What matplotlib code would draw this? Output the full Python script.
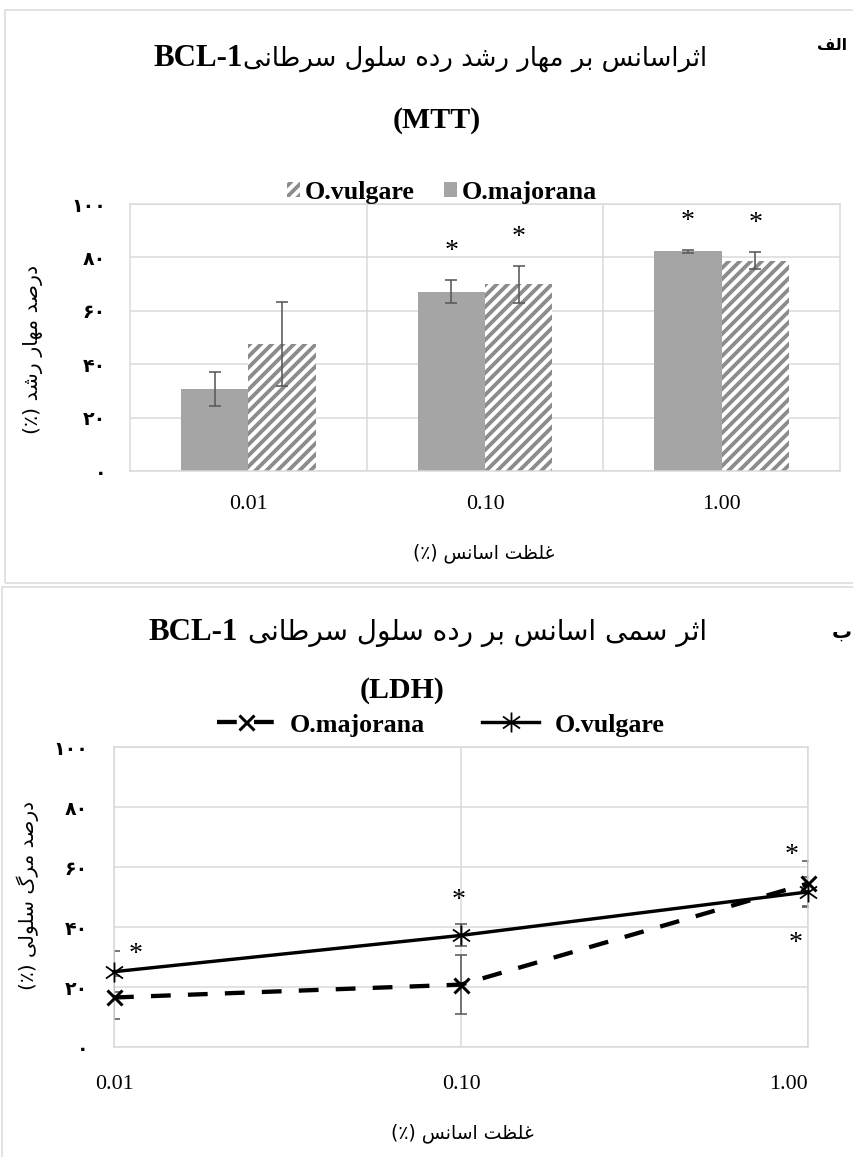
import matplotlib
matplotlib.use('Agg')
import matplotlib.pyplot as plt
import numpy as np
from matplotlib.path import Path
from matplotlib.patches import Rectangle
from matplotlib.ticker import NullLocator

# ---------------- data ----------------
concentrations = [0.01, 0.1, 1.0]
concentration_labels = ['0.01', '0.10', '1.00']

mtt_majorana = [30.6, 67.2, 82.3]
mtt_majorana_err = [6.3, 4.3, 0.5]
mtt_vulgare = [47.6, 69.9, 78.8]
mtt_vulgare_err = [15.6, 6.8, 3.2]
mtt_majorana_sig = [False, True, True]
mtt_vulgare_sig = [False, True, True]

ldh_majorana = [16.5, 20.8, 54.5]
ldh_majorana_err = [7.3, 9.9, 7.5]
ldh_vulgare = [25.1, 37.2, 51.7]
ldh_vulgare_err = [6.9, 3.7, 5.0]
ldh_majorana_sig = [False, False, True]
ldh_vulgare_sig = [True, True, True]

y_ticks = [0, 20, 40, 60, 80, 100]
y_tick_labels = ['\u06F0', '\u06F2\u06F0', '\u06F4\u06F0', '\u06F6\u06F0',
                 '\u06F8\u06F0', '\u06F1\u06F0\u06F0']

series_majorana = 'O.majorana'
series_vulgare = 'O.vulgare'

panel_a_label = 'الف'
panel_a_title_fa = 'اثراسانس بر مهار رشد رده سلول سرطانی'
panel_a_title_en = 'BCL-1'
panel_a_assay = '(MTT)'
panel_a_ylabel = 'درصد مهار رشد (\u066A)'
panel_b_label = 'ب'
panel_b_title_fa = 'اثر سمی اسانس بر رده سلول سرطانی'
panel_b_title_en = 'BCL-1'
panel_b_assay = '(LDH)'
panel_b_ylabel = 'درصد مرگ سلولی (\u066A)'
xlabel_fa = 'غلظت اسانس (\u066A)'

# ---------------- Persian shaping (contextual forms + visual order) ----------------
_FORMS = {
    '\u0627': ('\uFE8D', '\uFE8E'),
    '\u0628': ('\uFE8F', '\uFE90', '\uFE91', '\uFE92'),
    '\u062A': ('\uFE95', '\uFE96', '\uFE97', '\uFE98'),
    '\u062B': ('\uFE99', '\uFE9A', '\uFE9B', '\uFE9C'),
    '\u062F': ('\uFEA9', '\uFEAA'),
    '\u0631': ('\uFEAD', '\uFEAE'),
    '\u0633': ('\uFEB1', '\uFEB2', '\uFEB3', '\uFEB4'),
    '\u0634': ('\uFEB5', '\uFEB6', '\uFEB7', '\uFEB8'),
    '\u0635': ('\uFEB9', '\uFEBA', '\uFEBB', '\uFEBC'),
    '\u0637': ('\uFEC1', '\uFEC2', '\uFEC3', '\uFEC4'),
    '\u0638': ('\uFEC5', '\uFEC6', '\uFEC7', '\uFEC8'),
    '\u063A': ('\uFECD', '\uFECE', '\uFECF', '\uFED0'),
    '\u0641': ('\uFED1', '\uFED2', '\uFED3', '\uFED4'),
    '\u0644': ('\uFEDD', '\uFEDE', '\uFEDF', '\uFEE0'),
    '\u0645': ('\uFEE1', '\uFEE2', '\uFEE3', '\uFEE4'),
    '\u0646': ('\uFEE5', '\uFEE6', '\uFEE7', '\uFEE8'),
    '\u0647': ('\uFEE9', '\uFEEA', '\uFEEB', '\uFEEC'),
    '\u0648': ('\uFEED', '\uFEEE'),
    '\u06CC': ('\uFBFC', '\uFBFD', '\uFBFE', '\uFBFF'),
    '\u06AF': ('\uFB92', '\uFB93', '\uFB94', '\uFB95'),
}


def fa(s):
    s = s.replace('\u064A', '\u06CC').replace('\u0649', '\u06CC')
    out = []
    n = len(s)
    for i, ch in enumerate(s):
        if ch in _FORMS:
            f = _FORMS[ch]
            prev = s[i - 1] if i > 0 else ''
            nxt = s[i + 1] if i < n - 1 else ''
            jp = prev in _FORMS and len(_FORMS[prev]) == 4
            jn = len(f) == 4 and nxt in _FORMS
            if jp and jn:
                c = f[3]
            elif jp:
                c = f[1]
            elif jn:
                c = f[2]
            else:
                c = f[0]
            out.append(c)
        else:
            out.append(ch)
    vis = ''.join(out)[::-1]
    return vis.translate({ord('('): ')', ord(')'): '('})


# ---------------- layout helpers ----------------
DPI = 66
W, H = 853, 1157


def pt(px):
    return px * 72.0 / DPI


def fx(px):
    return px / W


def fy(py):
    return 1 - py / H


FA_FONT = ['DejaVu Sans']
plt.rcParams['font.family'] = ['Liberation Serif', 'DejaVu Sans']
plt.rcParams['hatch.linewidth'] = pt(3.8)

GRID = '#d9d9d9'
ERR = '#595959'
BAR_GREY = '#a5a5a5'
HATCH_GREY = '#8c8c8c'

fig = plt.figure(figsize=((W + 0.02) / DPI, (H + 0.02) / DPI), dpi=DPI)
fig.patch.set_facecolor('white')

# panel frames
fig.add_artist(Rectangle((fx(5), fy(583)), fx(900) - fx(5), fy(10) - fy(583),
                         transform=fig.transFigure, fill=False,
                         edgecolor=GRID, lw=pt(1.5)))
fig.add_artist(Rectangle((fx(2), fy(1200)), fx(900) - fx(2), fy(587) - fy(1200),
                         transform=fig.transFigure, fill=False,
                         edgecolor=GRID, lw=pt(1.5)))


def style_axes(ax):
    for sp in ax.spines.values():
        sp.set_color(GRID)
        sp.set_linewidth(pt(1.5))
    ax.tick_params(which='both', length=0)
    ax.set_axisbelow(True)


YT_FONT = dict(fontsize=pt(19), family=FA_FONT, fontweight='bold')

# ---------------- panel A: bars ----------------
ax1 = fig.add_axes([fx(130), fy(471), fx(840) - fx(130), fy(204) - fy(471)])
style_axes(ax1)
xc = np.arange(len(concentration_labels))
bw = 0.284
ekw = dict(ecolor=ERR, elinewidth=pt(1.6), capsize=pt(6), capthick=pt(1.6))
bars_m = ax1.bar(xc - bw / 2, mtt_majorana, bw, color=BAR_GREY, linewidth=0,
                 yerr=mtt_majorana_err, error_kw=ekw, label=series_majorana)
bars_v = ax1.bar(xc + bw / 2, mtt_vulgare, bw, facecolor='white',
                 edgecolor=HATCH_GREY, hatch='//', linewidth=0,
                 yerr=mtt_vulgare_err, error_kw=ekw, label=series_vulgare)
ax1.set_xlim(-0.5, len(concentration_labels) - 0.5)
ax1.set_ylim(0, 100)
ax1.set_xticks(xc, concentration_labels, fontsize=pt(22))
ax1.set_xticks(xc[:-1] + 0.5, minor=True)
ax1.set_yticks(y_ticks, y_tick_labels, **YT_FONT)
ax1.grid(True, which='minor', axis='x', color=GRID, lw=pt(1.5))
ax1.grid(True, which='major', axis='y', color=GRID, lw=pt(1.5))
ax1.tick_params(axis='x', pad=pt(24))
ax1.tick_params(axis='y', pad=pt(24))

STAR_EM = 28


def star(ax, x, y, dx, dy):
    # dx, dy: pixel offsets of the star's visual centre from (x, y)
    ax.annotate('*', xy=(x, y), xytext=(pt(dx), pt(dy - 0.5 * STAR_EM)),
                textcoords='offset points', ha='center', va='baseline',
                fontsize=pt(STAR_EM), family=['Liberation Serif'],
                annotation_clip=False)


for i in range(len(xc)):
    if mtt_majorana_sig[i]:
        star(ax1, xc[i] - bw / 2, mtt_majorana[i] + mtt_majorana_err[i], 0, 36)
    if mtt_vulgare_sig[i]:
        star(ax1, xc[i] + bw / 2, mtt_vulgare[i] + mtt_vulgare_err[i], 0, 36)

fig.legend(handles=[bars_v, bars_m], labels=[series_vulgare, series_majorana],
           loc='center', bbox_to_anchor=(fx(442), fy(192)), ncol=2,
           frameon=False, prop=dict(family='Liberation Serif', weight='bold',
                                    size=pt(26)),
           handlelength=0.5, handleheight=0.5, handletextpad=0.2,
           columnspacing=1.1, borderpad=0, borderaxespad=0)

# ---------------- panel B: lines ----------------
ax2 = fig.add_axes([fx(114), fy(1047), fx(808) - fx(114), fy(747) - fy(1047)])
style_axes(ax2)
ax2.set_xscale('log')
ax2.set_xlim(concentrations[0], concentrations[-1])
ax2.set_ylim(0, 100)
ax2.set_xticks(concentrations, concentration_labels, fontsize=pt(22))
ax2.xaxis.set_minor_locator(NullLocator())
ax2.set_yticks(y_ticks, y_tick_labels, **YT_FONT)
ax2.grid(True, which='major', color=GRID, lw=pt(1.5))
ax2.tick_params(axis='x', pad=pt(28))
ax2.tick_params(axis='y', pad=pt(26))
xt = ax2.get_xticklabels()
xt[-1].set_horizontalalignment('right')
xt[-1].set_x(concentrations[-1])

ax2.errorbar(concentrations, ldh_majorana, yerr=ldh_majorana_err, fmt='none',
             ecolor=ERR, elinewidth=pt(1.6), capsize=pt(6), capthick=pt(1.6),
             zorder=2)
ax2.errorbar(concentrations, ldh_vulgare, yerr=ldh_vulgare_err, fmt='none',
             ecolor=ERR, elinewidth=pt(1.6), capsize=pt(6), capthick=pt(1.6),
             zorder=2)

star_marker = Path([(0, -1), (0, 1), (-0.85, -0.6), (0.85, 0.6),
                    (-0.85, 0.6), (0.85, -0.6)],
                   [Path.MOVETO, Path.LINETO, Path.MOVETO, Path.LINETO,
                    Path.MOVETO, Path.LINETO])

line_v, = ax2.plot(concentrations, ldh_vulgare, color='black', lw=pt(3.4),
                   marker=star_marker, ms=pt(20), mew=pt(1.8), mec='black',
                   clip_on=False, zorder=4, label=series_vulgare)
line_m, = ax2.plot(concentrations, ldh_majorana, color='black', lw=pt(4.3),
                   ls=(0, (4.6, 4.0)), marker='x', ms=pt(15), mew=pt(3.0),
                   clip_on=False, zorder=5, label=series_majorana)

ldh_v_star_off = [(22, 4, 1), (-2, 31, 1), (-12, -29, -1)]
ldh_m_star_off = [None, None, (-16, 13, 1)]
for i in range(len(concentrations)):
    if ldh_vulgare_sig[i]:
        dx, dy, sgn = ldh_v_star_off[i]
        star(ax2, concentrations[i], ldh_vulgare[i] + sgn * ldh_vulgare_err[i], dx, dy)
    if ldh_majorana_sig[i]:
        dx, dy, sgn = ldh_m_star_off[i]
        star(ax2, concentrations[i], ldh_majorana[i] + sgn * ldh_majorana_err[i], dx, dy)

fig.legend(handles=[line_m, line_v], labels=[series_majorana, series_vulgare],
           loc='center', bbox_to_anchor=(fx(441), fy(725)), ncol=2,
           frameon=False, prop=dict(family='Liberation Serif', weight='bold',
                                    size=pt(26)),
           numpoints=1, handlelength=2.2, handletextpad=0.6,
           columnspacing=2.2, borderpad=0, borderaxespad=0)

# ---------------- titles and axis titles ----------------
fig.canvas.draw()
R = fig.canvas.get_renderer()


def fit(t, target, vertical=False):
    for _ in range(2):
        bb = t.get_window_extent(renderer=R)
        cur = bb.height if vertical else bb.width
        t.set_fontsize(t.get_fontsize() * target / cur)


def title_block(label, label_xr, label_base, label_w, title_fa, title_en,
                base, right, width, gap, assay, assay_x, assay_base):
    tl = fig.text(fx(label_xr), fy(label_base), fa(label), ha='right',
                  va='baseline', family=FA_FONT, fontweight='bold',
                  fontsize=pt(22))
    fit(tl, label_w)
    tf = fig.text(fx(right), fy(base), fa(title_fa), ha='right', va='baseline',
                  family=FA_FONT, fontsize=pt(20))
    fit(tf, width)
    bb = tf.get_window_extent(renderer=R)
    fig.text(bb.x0 / W - fx(gap), fy(base), title_en, ha='right',
             va='baseline', weight='bold', fontsize=pt(31))
    fig.text(fx(assay_x), fy(assay_base), assay, ha='center', va='baseline',
             weight='bold', fontsize=pt(30))


title_block(panel_a_label, 847, 50, 30, panel_a_title_fa, panel_a_title_en,
            66, 707, 465, 0, panel_a_assay, 437, 128)
title_block(panel_b_label, 852, 638, 20, panel_b_title_fa, panel_b_title_en,
            640, 707, 458, 10, panel_b_assay, 402, 698)

t = fig.text(fx(33), fy(349), fa(panel_a_ylabel), rotation=90, ha='center',
             va='center', family=FA_FONT, fontsize=pt(18))
fit(t, 168, vertical=True)
t = fig.text(fx(28), fy(895), fa(panel_b_ylabel), rotation=90, ha='center',
             va='center', family=FA_FONT, fontsize=pt(18))
fit(t, 190, vertical=True)
t = fig.text(fx(484), fy(553), fa(xlabel_fa), ha='center', va='center',
             family=FA_FONT, fontsize=pt(18))
fit(t, 141)
t = fig.text(fx(462), fy(1133), fa(xlabel_fa), ha='center', va='center',
             family=FA_FONT, fontsize=pt(18))
fit(t, 142)

fig.savefig('out.png', dpi=DPI, facecolor='white')
